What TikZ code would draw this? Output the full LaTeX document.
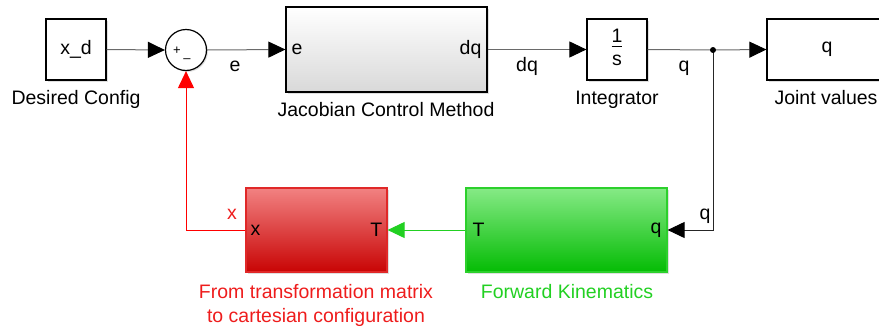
\documentclass[tikz,border=0pt]{standalone}
\usepackage{fontspec}
\setmainfont{Liberation Sans}
\usetikzlibrary{arrows.meta,shadows}
\definecolor{sig}{HTML}{6A6A6A}
\definecolor{labred}{HTML}{EE1C1C}
\definecolor{labgreen}{HTML}{22D022}
\definecolor{redtop}{HTML}{F28282}
\definecolor{redmid}{HTML}{EC7070}
\definecolor{redbot}{HTML}{C80404}
\definecolor{redline}{HTML}{E02828}
\definecolor{grtop}{HTML}{86EA86}
\definecolor{grmid}{HTML}{6AE06A}
\definecolor{grbot}{HTML}{04BC04}
\definecolor{grline}{HTML}{2CD02C}
\begin{document}
\begin{tikzpicture}[x=1pt,y=-1pt,
  font=\fontsize{19.5}{23}\selectfont,
  blk/.style={draw=black, line width=1.2pt, fill=white, rectangle, inner sep=0pt,
    drop shadow={shadow xshift=1.6pt, shadow yshift=-1.6pt, opacity=0.25}},
  lbl/.style={inner sep=0pt, anchor=base},
  tip/.style={-{Triangle[length=17pt,width=16pt,black]}},
  sigline/.style={draw=sig, line width=1pt},
  port/.style={inner sep=0pt}
]
\useasboundingbox (0,0) rectangle (879,327);
\begin{scope}
\clip (0,0) rectangle (879,327);

% blocks
\node[blk, minimum width=60pt, minimum height=61pt] (xd) at (76,49.5) {x\_d};
\node[lbl] (xdl) at (76,104.5) {Desired Config};

\node[circle, draw=black, line width=1.2pt, fill=white, minimum size=41pt, inner sep=0pt,
  drop shadow={shadow xshift=1.4pt, shadow yshift=-1.4pt, opacity=0.25}] (sum) at (186,50) {};
\node[inner sep=0pt, font=\fontsize{13}{14}\selectfont] (plus) at (177,51) {+};
\node[inner sep=0pt, font=\fontsize{13}{14}\selectfont] (minus) at (187,61) {\textendash};

\node[blk, top color=white, bottom color=black!15, minimum width=201pt, minimum height=85pt] (jac) at (386.5,49.5) {};
\node[port, anchor=west] (jace) at ([xshift=6pt]jac.west) {e};
\node[port, anchor=east] (jacdq) at ([xshift=-6pt]jac.east) {dq};
\node[lbl] (jacl) at (386,116.5) {Jacobian Control Method};

\node[blk, minimum width=60pt, minimum height=61pt] (int) at (617,49.5)
  {\begin{tabular}{@{}c@{}}1\\[-3pt]\hline\rule{0pt}{19pt}s\end{tabular}};
\node[lbl] (intl) at (617,104.5) {Integrator};

\node[blk, minimum width=120pt, minimum height=61pt] (jv) at (827,49.5) {q};
\node[lbl] (jvl) at (826,104.5) {Joint values};

\node[rectangle, draw=redline, line width=1.2pt, inner sep=0pt,
  top color=redtop, middle color=redmid, bottom color=redbot,
  drop shadow={shadow xshift=1.6pt, shadow yshift=-1.6pt, opacity=0.25},
  minimum width=141pt, minimum height=84pt] (tr) at (316.5,230) {};
\node[port, anchor=west] (trx) at ([xshift=5pt]tr.west) {x};
\node[port, anchor=east] (trT) at ([xshift=-5pt]tr.east) {T};
\node[inner sep=0pt, text=labred, align=center, font=\fontsize{19.5}{24}\selectfont] (trl) at (316,305)
  {From transformation matrix\\to cartesian configuration};

\node[rectangle, draw=grline, line width=1.2pt, inner sep=0pt,
  top color=grtop, middle color=grmid, bottom color=grbot,
  drop shadow={shadow xshift=1.6pt, shadow yshift=-1.6pt, opacity=0.25},
  minimum width=201pt, minimum height=84pt] (fk) at (566.5,230) {};
\node[port, anchor=west] (fkT) at ([xshift=7pt]fk.west) {T};
\node[port, anchor=east] (fkq) at ([xshift=-6pt]fk.east) {q};
\node[lbl, text=labgreen] (fkl) at (567,298) {Forward Kinematics};

% connectors
\coordinate (junc) at (713,50);
\draw[sigline, tip] (xd.east) -- (sum.west);
\draw[sigline, tip] (sum.east) -- (jac.west);
\draw[sigline, tip] (jac.east) -- (int.west);
\draw[sigline] (int.east) -- (junc);
\draw[sigline, tip] (junc) -- (jv.west);
\draw[line width=1pt, draw=black!85, tip] (junc) |- (fk.east);
\fill[black] (junc) circle (3pt);
\draw[line width=1pt, draw=labgreen, -{Triangle[length=17pt,width=16pt]}] (fk.west) -- (tr.east);
\draw[line width=1pt, draw=red, -{Triangle[length=17pt,width=16pt]}] (tr.west) -| (sum.south);

% signal labels
\node[lbl] (le) at (235,71) {e};
\node[lbl] (ldq) at (527,71) {dq};
\node[lbl] (lq) at (684,71) {q};
\node[lbl] (lqf) at (705,219) {q};
\node[lbl, text=labred] (lx) at (232,219) {x};
\end{scope}
\end{tikzpicture}
\end{document}
